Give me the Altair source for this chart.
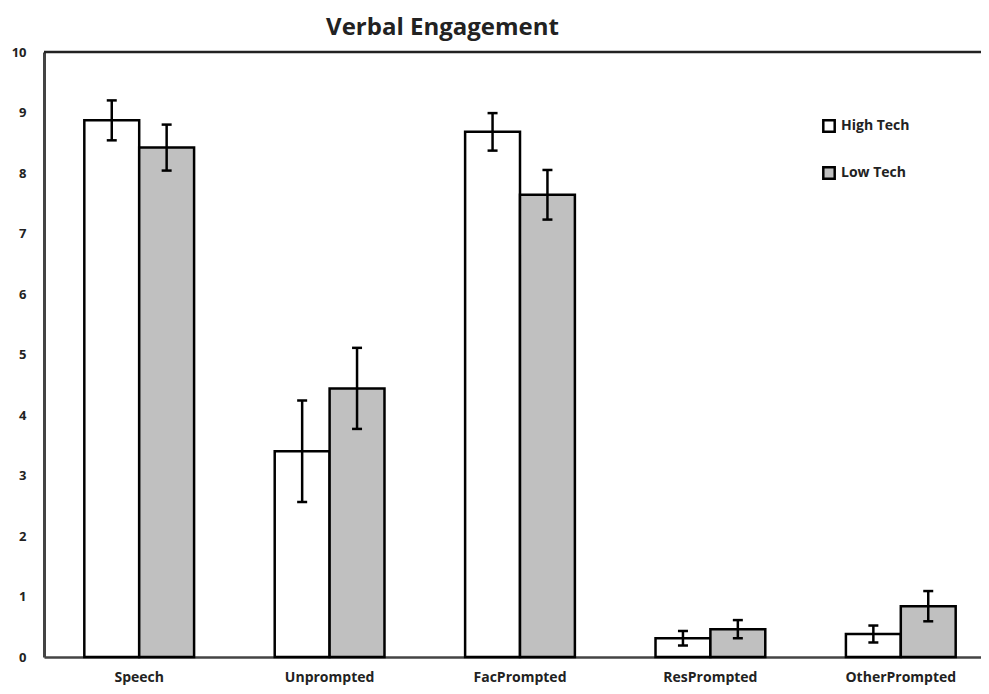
import altair as alt
import pandas as pd

categories = ["Speech", "Unprompted", "FacPrompted", "ResPrompted", "OtherPrompted"]
series = ["High Tech", "Low Tech"]
high_vals = [8.87, 3.40, 8.68, 0.31, 0.38]
low_vals = [8.42, 4.44, 7.64, 0.46, 0.84]
high_err = [0.33, 0.84, 0.31, 0.12, 0.14]
low_err = [0.38, 0.67, 0.41, 0.15, 0.25]
y_ticks = [0, 1, 2, 3, 4, 5, 6, 7, 8, 9, 10]

rows = []
for i, c in enumerate(categories):
    for s, v, e in ((series[0], high_vals[i], high_err[i]), (series[1], low_vals[i], low_err[i])):
        rows.append({"cat": c, "series": s, "value": v, "lo": v - e, "hi": v + e})
df = pd.DataFrame(rows)

FONT = "Open Sans"
TXT = "#222222"

x_enc = alt.X("cat:N", sort=categories, title=None,
              scale=alt.Scale(range=[0, 952], paddingInner=0, paddingOuter=0),
              axis=alt.Axis(ticks=False, labelAngle=0, labelFont=FONT, labelFontWeight="bold",
                            labelFontSize=14, labelColor=TXT, labelPadding=13,
                            domainColor="#444444", domainWidth=2.5, grid=False))
xo_enc = alt.XOffset("series:N", sort=series,
                     scale=alt.Scale(paddingInner=0, paddingOuter=0.7345))
y_scale = alt.Scale(domain=[0, 10], nice=False)

base = alt.Chart(df)

bars = base.mark_bar(stroke="black", strokeWidth=2.5).encode(
    x=x_enc,
    xOffset=xo_enc,
    y=alt.Y("value:Q", scale=y_scale, title=None,
            axis=alt.Axis(values=y_ticks, format="d", ticks=False, grid=False, labelFont=FONT,
                          labelFontWeight="bold", labelFontSize=13, labelColor=TXT,
                          labelPadding=18, domainColor="#444444", domainWidth=3)),
    fill=alt.Fill("series:N", sort=series,
                  scale=alt.Scale(domain=series, range=["#ffffff", "#c0c0c0"]),
                  legend=alt.Legend(title=None, orient="none", legendX=778, legendY=67,
                                    symbolType="square", symbolSize=130,
                                    symbolStrokeColor="black", symbolStrokeWidth=2.5,
                                    labelFont=FONT, labelFontWeight="bold", labelFontSize=14,
                                    labelColor=TXT, rowPadding=25, labelOffset=5)),
)

rules = base.mark_rule(color="black", strokeWidth=2.5).encode(
    x=alt.X("cat:N", sort=categories), xOffset=xo_enc,
    y=alt.Y("lo:Q", scale=y_scale), y2="hi:Q")

cap_lo = base.mark_tick(color="black", thickness=2.5, size=10, opacity=1).encode(
    x=alt.X("cat:N", sort=categories), xOffset=xo_enc, y=alt.Y("lo:Q", scale=y_scale))
cap_hi = base.mark_tick(color="black", thickness=2.5, size=10, opacity=1).encode(
    x=alt.X("cat:N", sort=categories), xOffset=xo_enc, y=alt.Y("hi:Q", scale=y_scale))

top = alt.Chart(pd.DataFrame({"y": [10]})).mark_rule(color="#222222", strokeWidth=2.5).encode(
    y=alt.Y("y:Q", scale=y_scale))

chart = alt.layer(bars, rules, cap_lo, cap_hi, top).properties(
    width=937, height=605,
    title=alt.TitleParams("Verbal Engagement", anchor="middle", frame="group", dx=-70,
                          font=FONT, fontSize=24, fontWeight="bold", color=TXT, offset=6),
    autosize=alt.AutoSizeParams(type="none"),
    padding={"left": 36, "top": 44, "right": 0, "bottom": 28},
).configure_view(stroke=None).configure(background="white")

chart.save("out.html", embed_options={"renderer": "svg", "actions": False})
